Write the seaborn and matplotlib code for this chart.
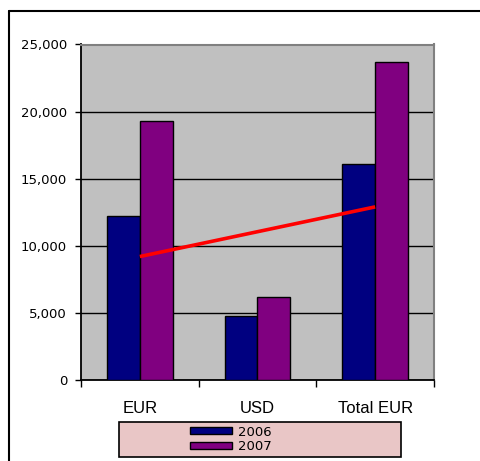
import matplotlib
matplotlib.use("Agg")
import matplotlib.pyplot as plt
import seaborn as sns
import pandas as pd
from matplotlib.lines import Line2D
from matplotlib.patches import Rectangle, Patch
from matplotlib.ticker import FuncFormatter, MultipleLocator

# ---- data ----
categories = ["EUR", "USD", "Total EUR"]
values_2006 = [12250, 4750, 16100]
values_2007 = [19300, 6200, 23700]
series_names = ["2006", "2007"]
trend_cats = ["EUR", "Total EUR"]
trend_values = [9200, 12900]
y_ticks = [0, 5000, 10000, 15000, 20000, 25000]

df = pd.DataFrame({
    "category": categories * 2,
    "value": values_2006 + values_2007,
    "year": [series_names[0]] * 3 + [series_names[1]] * 3,
})

sns.set_theme(style="white")
plt.rcParams["font.family"] = ["DejaVu Sans"]
plt.rcParams["text.color"] = "black"

fig = plt.figure(figsize=(4.81, 4.61), dpi=100)
fig.patch.set_facecolor("white")
W, H = 481, 461
ax = fig.add_axes([81 / W, 1 - 380 / H, (434 - 81) / W, (380 - 44.5) / H])
ax.set_facecolor("#C0C0C0")

palette = {"2006": "#000080", "2007": "#800080"}
sns.barplot(data=df, x="category", y="value", hue="year", order=categories,
            hue_order=series_names, palette=palette, width=0.56, gap=0,
            saturation=1, edgecolor="black", linewidth=1.0, ax=ax,
            legend=False, zorder=3)

ax.plot(trend_cats, trend_values, color="#FF0000", lw=2.6, zorder=4,
        solid_capstyle="butt")

ax.set_ylim(0, 25000)
ax.set_xlim(-0.5, 2.5)
ax.set_yticks(y_ticks)
ax.yaxis.set_major_formatter(FuncFormatter(lambda v, p: f"{int(v):,}"))
ax.yaxis.grid(True, color="black", lw=1.0, zorder=1)
ax.set_axisbelow(True)
ax.set_xlabel("")
ax.set_ylabel("")

# ticks
ax.tick_params(axis="y", which="major", direction="out", length=4, width=1,
               color="black", labelsize=9.5, pad=6, left=True, labelcolor="black")
ax.set_xticks([0, 1, 2])
ax.set_xticklabels(categories, fontsize=12, family="Liberation Sans")
ax.tick_params(axis="x", which="major", length=0, pad=15, labelcolor="black")
ax.xaxis.set_minor_locator(MultipleLocator(1, offset=0.5))
ax.tick_params(axis="x", which="minor", direction="out", length=5, width=1,
               color="black", bottom=True)

for side in ["top", "right"]:
    ax.spines[side].set_visible(True)
    ax.spines[side].set_color("#808080")
    ax.spines[side].set_linewidth(1.5)
for side in ["left", "bottom"]:
    ax.spines[side].set_color("black")
    ax.spines[side].set_linewidth(1.3)

# figure border (left and top)
fig.add_artist(Line2D([9 / W, 9 / W], [0, 1 - 11 / H], transform=fig.transFigure,
                      color="black", lw=1.5))
fig.add_artist(Line2D([9 / W, 1], [1 - 11 / H, 1 - 11 / H], transform=fig.transFigure,
                      color="black", lw=1.5))

# legend background
fig.add_artist(Rectangle((119 / W, 1 - 457 / H), (401 - 119) / W, (457 - 422) / H,
                         transform=fig.transFigure, facecolor="#E9C6C6",
                         edgecolor="black", lw=1.2, zorder=5))
handles = [Patch(facecolor=palette[s], edgecolor="black", lw=1.0) for s in series_names]
leg = fig.legend(handles, series_names, loc="center left",
                 bbox_to_anchor=(190 / W, 1 - 439.5 / H), frameon=False,
                 fontsize=9.5, handlelength=3.2, handleheight=0.45,
                 handletextpad=0.45, labelspacing=0.15, borderpad=0,
                 borderaxespad=0)
for t in leg.get_texts():
    t.set_color("black")
leg.set_zorder(6)

fig.savefig("out.png", dpi=100)
